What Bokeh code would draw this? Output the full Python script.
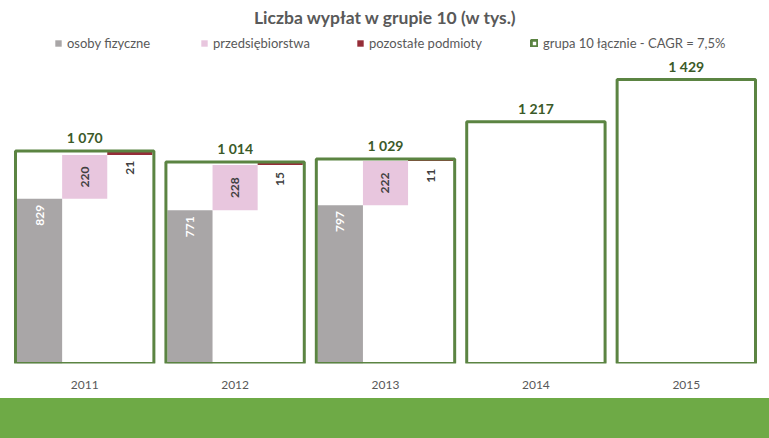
from bokeh.plotting import figure
from bokeh.models import ColumnDataSource, FactorRange, Range1d, Legend, LegendItem, LabelSet, Div
from bokeh.layouts import column
from bokeh.transform import dodge
from bokeh.core.properties import value
from bokeh.embed import file_html
from bokeh.resources import INLINE
from math import pi

# ---- data ----
years = ["2011", "2012", "2013", "2014", "2015"]
total = [1070, 1014, 1029, 1217, 1429]
comp_years = ["2011", "2012", "2013"]
osoby = [829, 771, 797]          # osoby fizyczne
przeds = [220, 228, 222]         # przedsiębiorstwa
pozost = [21, 15, 11]            # pozostałe podmioty

title_text = "Liczba wypłat w grupie 10 (w tys.)"
legend_labels = ["osoby fizyczne", "przedsiębiorstwa", "pozostałe podmioty",
                 "grupa 10 łącznie - CAGR = 7,5%"]


def fmt(v):
    return f"{v:,}".replace(",", " ")


c2 = [a + b for a, b in zip(osoby, przeds)]
c3 = [a + b + c for a, b, c in zip(osoby, przeds, pozost)]

tot_src = ColumnDataSource(dict(x=years, top=total, label=[fmt(v) for v in total]))
comp_src = ColumnDataSource(dict(
    x=comp_years, osoby=osoby, p_bot=osoby, p_top=c2,
    p_mid=[(a + b) / 2 for a, b in zip(osoby, c2)],
    r_bot=c2, r_top=c3,
    l_o=[str(v) for v in osoby], l_p=[str(v) for v in przeds], l_r=[str(v) for v in pozost],
))

FONT = "Lato"
GREY = "#a9a6a7"
PINK = "#e8c6de"
RED = "#952d38"
GREEN = "#5b8442"
DKGREEN = "#3b5a28"
TXT = "#595959"

p = figure(x_range=FactorRange(factors=years, range_padding=0),
           y_range=Range1d(0, 1676),
           width=769, height=398, output_backend="svg", toolbar_location=None,
           min_border_left=9, min_border_right=8, min_border_bottom=35, min_border_top=30,
           y_axis_location=None, outline_line_color=None, title=title_text)
p.title.align = "center"
p.title.text_font = FONT
p.title.text_font_size = "17.5px"
p.title.text_font_style = "bold"
p.title.text_color = TXT
p.title.offset = 0
p.title.standoff = 5

p.grid.grid_line_color = None
p.xaxis.axis_line_color = None
p.xaxis.major_tick_line_color = None
p.xaxis.minor_tick_line_color = None
p.xaxis.major_label_text_font = FONT
p.xaxis.major_label_text_font_size = "12px"
p.xaxis.major_label_text_color = TXT
p.xaxis.major_label_standoff = 11

r_grey = p.vbar(x=dodge("x", -0.3, range=p.x_range), width=0.3, top="osoby", bottom=0,
                source=comp_src, fill_color=GREY, line_color=None)
r_pink = p.vbar(x=dodge("x", 0.0, range=p.x_range), width=0.3, top="p_top", bottom="p_bot",
                source=comp_src, fill_color=PINK, line_color=None)
r_red = p.vbar(x=dodge("x", 0.3, range=p.x_range), width=0.3, top="r_top", bottom="r_bot",
               source=comp_src, fill_color=RED, line_color=None)
r_tot = p.vbar(x="x", width=0.92, top="top", bottom=0, source=tot_src,
               fill_color=None, line_color=GREEN, line_width=3)

common = dict(source=comp_src, angle=pi / 2, text_font=value(FONT), text_font_size="12px",
              text_font_style="bold", text_baseline="middle")
p.add_layout(LabelSet(x=dodge("x", -0.3, range=p.x_range), y="osoby", text="l_o",
                      text_align="right", y_offset=-6, text_color="white", **common))
p.add_layout(LabelSet(x=dodge("x", 0.0, range=p.x_range), y="p_mid", text="l_p",
                      text_align="center", text_color="#404040", **common))
p.add_layout(LabelSet(x=dodge("x", 0.3, range=p.x_range), y="r_top", text="l_r",
                      text_align="right", y_offset=-10, text_color="#404040", **common))
p.add_layout(LabelSet(x="x", y="top", text="label", source=tot_src, text_align="center",
                      text_baseline="bottom", y_offset=5, text_font=value(FONT),
                      text_font_size="14px", text_font_style="bold", text_color=DKGREEN))

leg_x = [45, 191, 347, 521]
for lab, rend, lx in zip(legend_labels, [r_grey, r_pink, r_red, r_tot], leg_x):
    leg = Legend(items=[LegendItem(label=lab, renderers=[rend])], location=(lx, 312),
                 orientation="horizontal", glyph_width=8, glyph_height=8, label_standoff=5,
                 padding=0, margin=0, border_line_color=None, background_fill_alpha=0,
                 label_text_font=FONT, label_text_font_size="13px", label_text_color=TXT,
                 label_height=14)
    p.add_layout(leg)

band = Div(text="", width=769, height=40, margin=0,
           styles={"background-color": "#6eaa46"})
layout = column(p, band, spacing=0)

open("out.html", "w").write(file_html(layout, INLINE))
